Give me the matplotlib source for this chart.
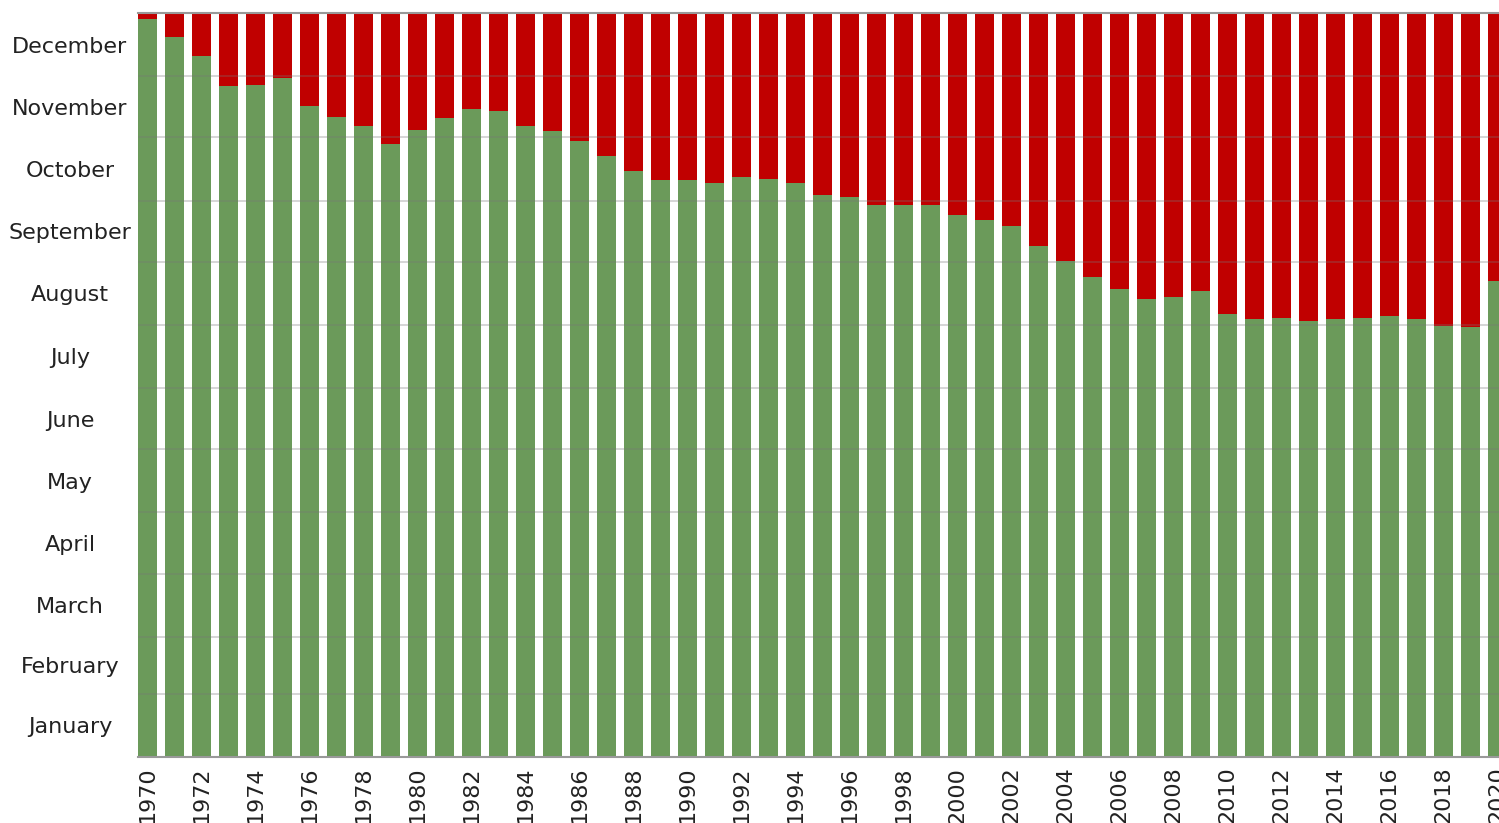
import numpy as np
import matplotlib.pyplot as plt

# years shown on the x axis
years = list(range(1970, 2021))

# day of year where the green part ends
green_days = [362.1, 353.2, 343.9, 329.2, 329.7, 333.1, 319.4, 314.0, 309.6, 300.7,
              307.6, 313.5, 317.9, 316.9, 309.6, 307.1, 302.2, 294.8, 287.5, 283.1,
              283.1, 281.6, 284.5, 283.6, 281.6, 275.7, 274.7, 270.8, 270.8, 270.8,
              265.9, 263.4, 260.5, 250.7, 243.3, 235.5, 229.6, 224.7, 225.7, 228.6,
              217.3, 214.9, 215.4, 213.9, 214.9, 215.4, 216.4, 214.9, 211.4, 211.0,
              233.5]

months = ["January", "February", "March", "April", "May", "June", "July",
          "August", "September", "October", "November", "December"]
month_days = [31, 28, 31, 30, 31, 30, 31, 31, 30, 31, 30, 31]

total = 365
green = np.array(green_days)
red = total - green

fig = plt.figure(figsize=(14.99, 8.23), dpi=100)
ax = fig.add_axes([138 / 1499, 1 - 757 / 823, 1 - 138 / 1499, (757 - 13) / 823])

x = np.arange(len(years))
ax.bar(x, green, width=0.7, color='#6b9a5a', zorder=2)
ax.bar(x, red, width=0.7, bottom=green, color='#c00000', zorder=2)

starts = np.concatenate([[0], np.cumsum(month_days)])
mids = (starts[:-1] + starts[1:]) / 2

ax.set_ylim(0, total)
ax.set_yticks(starts[1:-1])
ax.set_yticklabels([])
ax.set_yticks(mids, minor=True)
ax.set_yticklabels(months, minor=True, ha='center', fontsize=16, color='#222222')
ax.tick_params(axis='y', which='both', length=0)
ax.tick_params(axis='y', which='minor', pad=49)
ax.yaxis.grid(True, which='major', color='#777777', alpha=0.35, linewidth=1.2, zorder=3)
ax.set_axisbelow(False)

ax.set_xlim(-0.35, 50 - 0.35 + 11 / 27)
ax.set_xticks(x[::2])
ax.set_xticklabels([str(y) for y in years[::2]], rotation=90, fontsize=16, color='#222222')
ax.tick_params(axis='x', length=0, pad=7)

for side in ['left', 'right']:
    ax.spines[side].set_visible(False)
for side in ['top', 'bottom']:
    ax.spines[side].set_color('#999999')
    ax.spines[side].set_linewidth(1.5)

fig.savefig('out.png', dpi=100)
